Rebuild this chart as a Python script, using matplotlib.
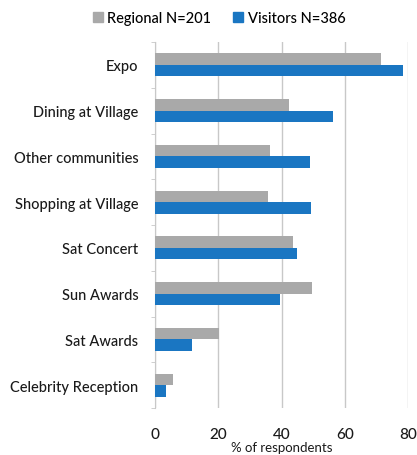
import numpy as np
import matplotlib.pyplot as plt
from matplotlib.patches import Patch

plt.rcParams['font.family'] = ['Lato', 'DejaVu Sans']
plt.rcParams['font.weight'] = 'medium'

categories = ["Expo", "Dining at Village", "Other communities", "Shopping at Village",
              "Sat Concert", "Sun Awards", "Sat Awards", "Celebrity Reception"]
regional = [71.5, 42.4, 36.4, 35.8, 43.7, 49.6, 20.3, 5.7]
visitors = [78.5, 56.3, 49.0, 49.3, 45.0, 39.6, 11.7, 3.5]
series_labels = ["Regional N=201", "Visitors N=386"]
xticks = [0, 20, 40, 60, 80]

gray = "#A9A9A9"
blue = "#1A76C2"

fig = plt.figure(figsize=(4.17, 4.56), dpi=100)
ax = fig.add_axes([155 / 417, 1 - 409 / 456, 253 / 417, 366 / 456])

y = np.arange(len(categories))
h = 0.25
ax.barh(y - h / 2, regional, height=h, color=gray, zorder=3)
ax.barh(y + h / 2, visitors, height=h, color=blue, zorder=3)

ax.set_ylim(len(categories) - 0.5, -0.5)
ax.set_xlim(0, 80)
ax.set_xticks(xticks)
ax.set_yticks(y)
ax.set_yticklabels(categories, fontsize=10.5, color="#1a1a1a")
ax.set_yticks(np.arange(len(categories) + 1) - 0.5, minor=True)
ax.tick_params(axis="y", which="major", length=0, pad=12)
ax.tick_params(axis="y", which="minor", length=3, color="#c8c8c8")
ax.tick_params(axis="x", length=0, pad=14, labelsize=11, colors="#1a1a1a")
ax.grid(axis="x", color="#c8c8c8", linewidth=1, zorder=0)
for side in ["top", "right", "bottom"]:
    ax.spines[side].set_visible(False)
ax.spines["left"].set_color("#c8c8c8")

ax.set_xlabel("% of respondents", fontsize=9.5, color="#1a1a1a", labelpad=0)

handles = [Patch(color=gray), Patch(color=blue)]
fig.legend(handles, series_labels, loc="center", bbox_to_anchor=(219 / 417, 1 - 19 / 456),
           ncol=2, frameon=False, fontsize=10.5, handlelength=0.7, handleheight=0.7,
           handletextpad=0.3, columnspacing=1.5)

fig.savefig("out.png", dpi=100)
